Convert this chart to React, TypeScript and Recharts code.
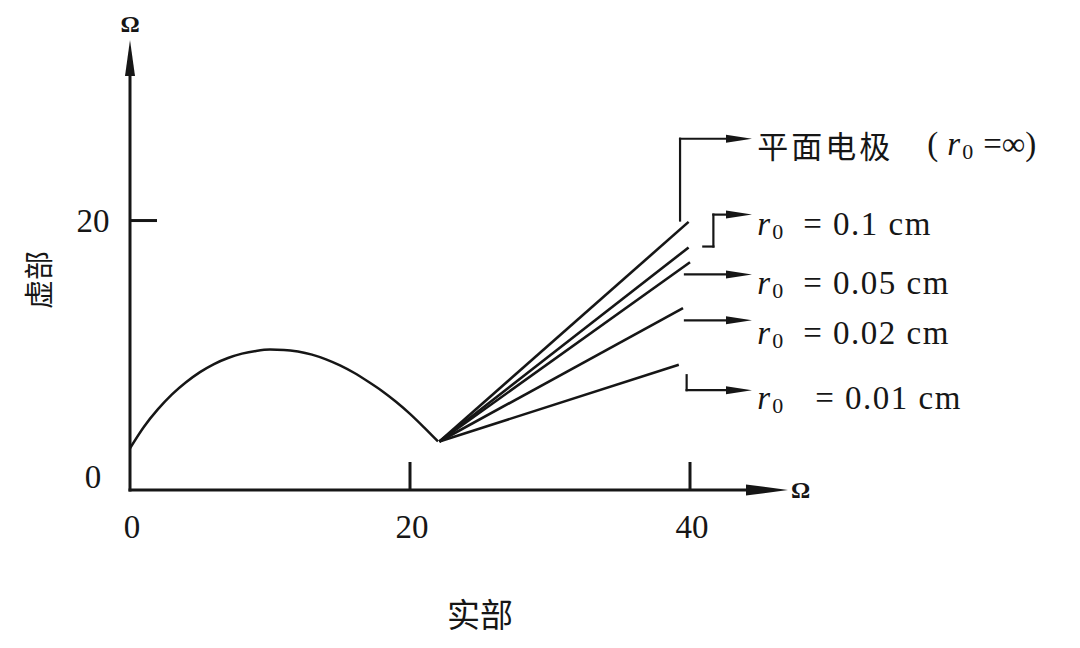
import React from 'react';
import { ComposedChart, Line, XAxis, YAxis, ReferenceLine, ReferenceDot, Label } from 'recharts';

// semicircle (charge-transfer arc)
const arcRe = [0, 1, 2, 3, 4, 5, 6, 7, 8, 9, 10, 11, 12, 13, 14, 15, 16, 17, 18, 19, 20, 21, 22];
const arcIm = [3.1, 4.7, 6.0, 7.1, 8.0, 8.75, 9.35, 9.8, 10.12, 10.32, 10.42, 10.4, 10.28, 10.05, 9.7, 9.25, 8.7, 8.05, 7.35, 6.55, 5.65, 4.65, 3.6];

// diffusion lines fanning out from the end of the arc
const fanStartRe = 22.1;
const fanStartIm = 3.6;
const fanEndRe = [39.9, 39.9, 40.0, 39.5, 39.2];
const fanEndIm = [19.9, 18.0, 16.9, 13.5, 9.3];
const radii = ['∞', '0.1', '0.05', '0.02', '0.01'];

const xTicks = [0, 20, 40];
const yTicks = [0, 20];

const INK = '#161616';
const SERIF = 'Liberation Serif, Times New Roman, serif';
const CJK = 'Noto Sans CJK SC, sans-serif';

// leader lines from each curve to its label (data coords)
const leaders: { re: number; im: number }[][] = [
    [{ re: 39.29, im: 20.0 }, { re: 39.29, im: 26.07 }, { re: 44.43, im: 26.07 }],
    [{ re: 40.95, im: 18.07 }, { re: 41.67, im: 18.07 }, { re: 41.67, im: 20.44 }, { re: 44.43, im: 20.44 }],
    [{ re: 39.64, im: 16.0 }, { re: 44.43, im: 16.0 }],
    [{ re: 39.64, im: 12.59 }, { re: 44.43, im: 12.59 }],
    [{ re: 39.76, im: 8.52 }, { re: 39.76, im: 7.41 }, { re: 44.43, im: 7.41 }],
];
const labelRe = 44.8;
const labelIm = [25.7, 19.78, 15.33, 11.63, 6.81];

const arcData = arcRe.map((re, i) => ({ re, im: arcIm[i] }));
const fanData = fanEndRe.map((re, i) => [
    { re: fanStartRe, im: fanStartIm },
    { re, im: fanEndIm[i] },
]);

const Arrow = (props: any) => {
    const { x1, y1, x2, y2, head = 0, headW = 8, width = 2 } = props;
    const dx = x2 - x1;
    const dy = y2 - y1;
    const len = Math.hypot(dx, dy) || 1;
    const ux = dx / len;
    const uy = dy / len;
    const bx = x2 - ux * head;
    const by = y2 - uy * head;
    return (
        <g>
            <line x1={x1} y1={y1} x2={head ? bx + ux * 2 : x2} y2={head ? by + uy * 2 : y2} stroke={INK} strokeWidth={width} strokeLinecap="square" />
            {head > 0 && (
                <polygon
                    points={`${x2},${y2} ${bx - uy * headW / 2},${by + ux * headW / 2} ${bx + uy * headW / 2},${by - ux * headW / 2}`}
                    fill={INK}
                />
            )}
        </g>
    );
};

const XTick = ({ x, y, payload }: any) => (
    <g>
        {payload.value !== 0 && <line x1={x} y1={y} x2={x} y2={y - 28} stroke={INK} strokeWidth={3} />}
        <text x={x + 2} y={y + 37} textAnchor="middle" dominantBaseline="central" style={{ fontFamily: SERIF }} fontSize={33} fill={INK}>
            {payload.value}
        </text>
    </g>
);

const YTick = ({ x, y, payload }: any) => (
    <g>
        {payload.value !== 0 && <line x1={x} y1={y} x2={x + 27} y2={y} stroke={INK} strokeWidth={3} />}
        <text x={x - 37} y={payload.value === 0 ? y - 13 : y} textAnchor="middle" dominantBaseline="central" style={{ fontFamily: SERIF }} fontSize={33} fill={INK}>
            {payload.value}
        </text>
    </g>
);

const RadiusLabel = ({ cx, cy, r0, idx }: any) => {
    if (r0 === '∞') {
        return (
            <text y={cy} dominantBaseline="central" style={{ fontFamily: SERIF }} fontSize={33} fill={INK}>
                <tspan x={cx} style={{ fontFamily: CJK }} fontSize={31} letterSpacing={3}>平面电极</tspan>
                <tspan x={cx + 170}>(</tspan>
                <tspan x={cx + 190} fontStyle="italic">r</tspan>
                <tspan x={cx + 205} fontSize={22} dy={7}>0</tspan>
                <tspan x={cx + 226} dy={-7}>=∞)</tspan>
            </text>
        );
    }
    const eqX = idx === 4 ? 58 : 46;
    return (
        <text y={cy} dominantBaseline="central" style={{ fontFamily: SERIF }} fontSize={33} fill={INK}>
            <tspan x={cx} fontStyle="italic">r</tspan>
            <tspan x={cx + 15} fontSize={22} dy={7}>0</tspan>
            <tspan x={cx + eqX} dy={-7} letterSpacing={1.5}>= {r0} cm</tspan>
        </text>
    );
};

const AxisUnit = ({ cx, cy }: any) => (
    <text x={cx} y={cy} textAnchor="middle" dominantBaseline="central" style={{ fontFamily: SERIF }} fontSize={24} fontWeight="bold" fill={INK}>
        Ω
    </text>
);

export default function App() {
    return (
        <div style={{ position: 'absolute', left: 0, top: 0, width: 1080, height: 648, background: '#fff' }}>
            <ComposedChart width={1080} height={648} margin={{ top: 40, right: 292, bottom: 98, left: 70 }}>
                <XAxis
                    type="number"
                    dataKey="re"
                    domain={[0, 47]}
                    ticks={xTicks}
                    allowDataOverflow
                    height={60}
                    axisLine={false}
                    tickLine={false}
                    tickSize={0}
                    tickMargin={0}
                    tick={<XTick />}
                >
                    <Label value="实部" position="center" dx={21} dy={95} fontFamily={CJK} fontSize={33} fill={INK} />
                </XAxis>
                <YAxis
                    type="number"
                    domain={[0, 33.4]}
                    ticks={yTicks}
                    allowDataOverflow
                    width={60}
                    axisLine={false}
                    tickLine={false}
                    tickSize={0}
                    tickMargin={0}
                    tick={<YTick />}
                >
                    <Label value="虚部" position="center" angle={-90} dx={-60} dy={15} fontFamily={CJK} fontSize={29} fill={INK} />
                </YAxis>

                {/* axes with arrowheads */}
                <ReferenceLine
                    segment={[{ x: 0, y: 0 }, { x: 47, y: 0 }]}
                    ifOverflow="visible"
                    shape={(p: any) => <Arrow {...p} head={42} headW={11} width={3} />}
                />
                <ReferenceLine
                    segment={[{ x: 0, y: 0 }, { x: 0, y: 33.4 }]}
                    ifOverflow="visible"
                    shape={(p: any) => <Arrow {...p} head={36} headW={10} width={3} />}
                />
                <ReferenceDot x={0} y={34.6} r={0} ifOverflow="visible" shape={(p: any) => <AxisUnit {...p} />} />
                <ReferenceDot x={47.9} y={0} r={0} ifOverflow="visible" shape={(p: any) => <AxisUnit {...p} />} />

                <Line
                    data={arcData}
                    dataKey="im"
                    type="monotone"
                    stroke={INK}
                    strokeWidth={2.5}
                    dot={false}
                    activeDot={false}
                    isAnimationActive={false}
                />
                {fanData.map((d, i) => (
                    <Line
                        key={radii[i]}
                        data={d}
                        dataKey="im"
                        type="linear"
                        stroke={INK}
                        strokeWidth={2.6}
                        dot={false}
                        activeDot={false}
                        isAnimationActive={false}
                    />
                ))}

                {/* leader arrows and labels */}
                {leaders.map((pts, i) =>
                    pts.slice(1).map((p, j) => (
                        <ReferenceLine
                            key={`${i}-${j}`}
                            segment={[{ x: pts[j].re, y: pts[j].im }, { x: p.re, y: p.im }]}
                            ifOverflow="visible"
                            shape={(sp: any) => (
                                <Arrow {...sp} head={j === pts.length - 2 ? 26 : 0} headW={8} width={2.2} />
                            )}
                        />
                    )),
                )}
                {radii.map((r0, i) => (
                    <ReferenceDot
                        key={`lab-${r0}`}
                        x={labelRe}
                        y={labelIm[i]}
                        r={0}
                        ifOverflow="visible"
                        shape={(p: any) => <RadiusLabel {...p} r0={r0} idx={i} />}
                    />
                ))}
            </ComposedChart>
        </div>
    );
}
